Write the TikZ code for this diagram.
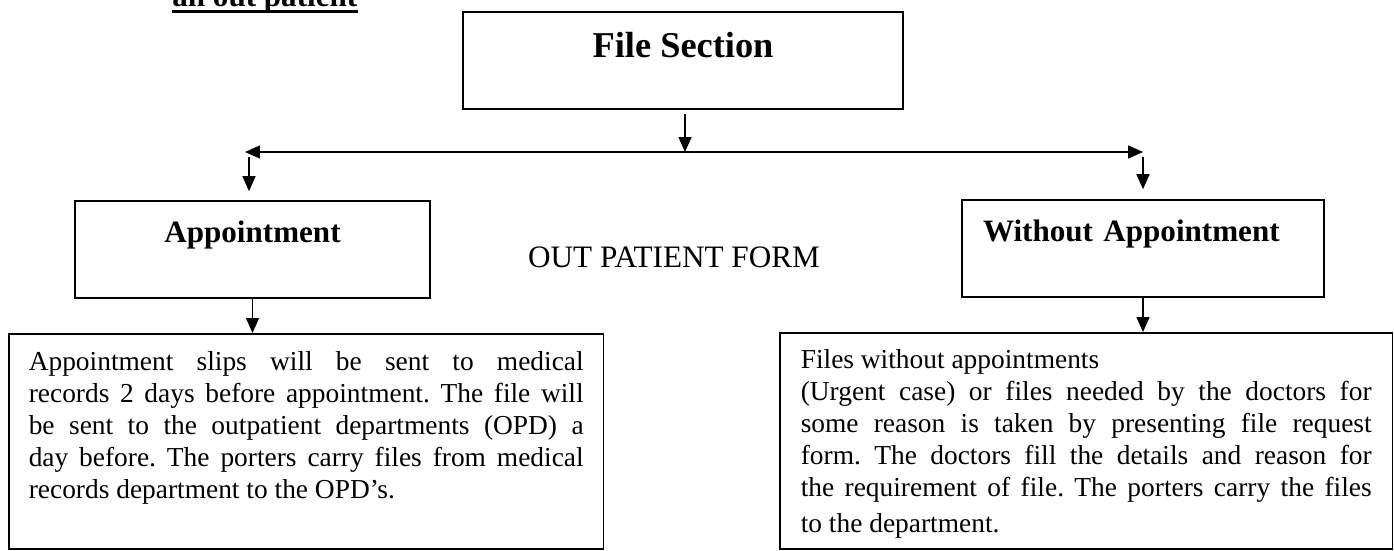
\documentclass[tikz,border=0pt]{standalone}
\usepackage{fontspec}
\setmainfont{Liberation Serif}
\usetikzlibrary{arrows.meta}
\begin{document}
\begin{tikzpicture}[x=0.02cm, y=-0.02cm,
    box/.style={draw, shape=rectangle, line width=0.9pt, inner sep=0pt},
    arr/.style={line width=0.8pt, -{Triangle[length=0.3cm, width=0.26cm]}}]
    \def\headfont{\fontsize{17.7}{21}\selectfont\bfseries}
    \def\bodyfont{\fontsize{15.6}{18.2}\selectfont\frenchspacing\tolerance=10000\hbadness=10000}
    \useasboundingbox (0,0) rectangle (1394,551);
    \clip (0,0) rectangle (1394,551);
    \node[inner sep=0pt, anchor=base west, font=\headfont] (hdr) at (172,7) {an out patient};
    \draw[line width=1.7pt] ([yshift=-0.086cm]hdr.base west) -- ([yshift=-0.086cm]hdr.base east);
    \node[box, minimum width=8.8cm, text height=0.9cm, text depth=1.04cm, font=\fontsize{20.7}{24}\selectfont\bfseries, anchor=base] (filesec) at (683,57) {File Section};
    \node[box, minimum width=7.1cm, text height=0.82cm, text depth=1.12cm, font=\headfont, anchor=base] (appt) at (252.5,242) {Appointment};
    \node[box, text width=6.4cm, inner xsep=0.42cm, text height=0.82cm, text depth=1.12cm, font=\headfont, anchor=base] (noappt) at (1143,241) {Without Appointment};
    \node[anchor=base, font=\fontsize{17.75}{21}\selectfont] (opform) at (674,267) {OUT PATIENT FORM};
    \node[box, text width=11.1cm, inner xsep=0.4cm, text height=0.74cm, text depth=3.56cm, font=\bodyfont, align=justify, anchor=north west] (apptnote) at (8,333) {Appointment slips will be sent to medical\linebreak records 2 days before appointment. The file will\linebreak be sent to the outpatient departments (OPD) a\linebreak day before. The porters carry files from medical\linebreak records department to the OPD’s.};
    \node[box, text width=11.42cm, inner xsep=0.42cm, text height=0.72cm, text depth=3.6cm, font=\bodyfont, align=justify, anchor=north west] (noapptnote) at (779,332) {Files without appointments\newline (Urgent case) or files needed by the doctors for\linebreak some reason is taken by presenting file request\linebreak form. The doctors fill the details and reason for\linebreak the requirement of file. The porters carry the files\linebreak \rule{0pt}{16pt}to the department.};
    \coordinate (hub) at (685,152);
    \coordinate (lend) at (245,152);
    \coordinate (rend) at (1143,152);
    \coordinate (ldrop) at (249,157);
    \coordinate (rdrop) at (1143,157);
    \draw[arr, shorten <=0.08cm] (filesec.south -| hub) -- (hub);
    \draw[arr] (hub) -- (lend);
    \draw[arr] (hub) -- (rend);
    \draw[arr, shorten >=0.18cm] (ldrop) -- (ldrop |- appt.north);
    \draw[arr, shorten >=0.2cm] (rdrop) -- (rdrop |- noappt.north);
    \draw[arr] (appt.south) -- (appt.south |- apptnote.north);
    \draw[arr] (noappt.south) -- (noappt.south |- noapptnote.north);
\end{tikzpicture}
\end{document}
